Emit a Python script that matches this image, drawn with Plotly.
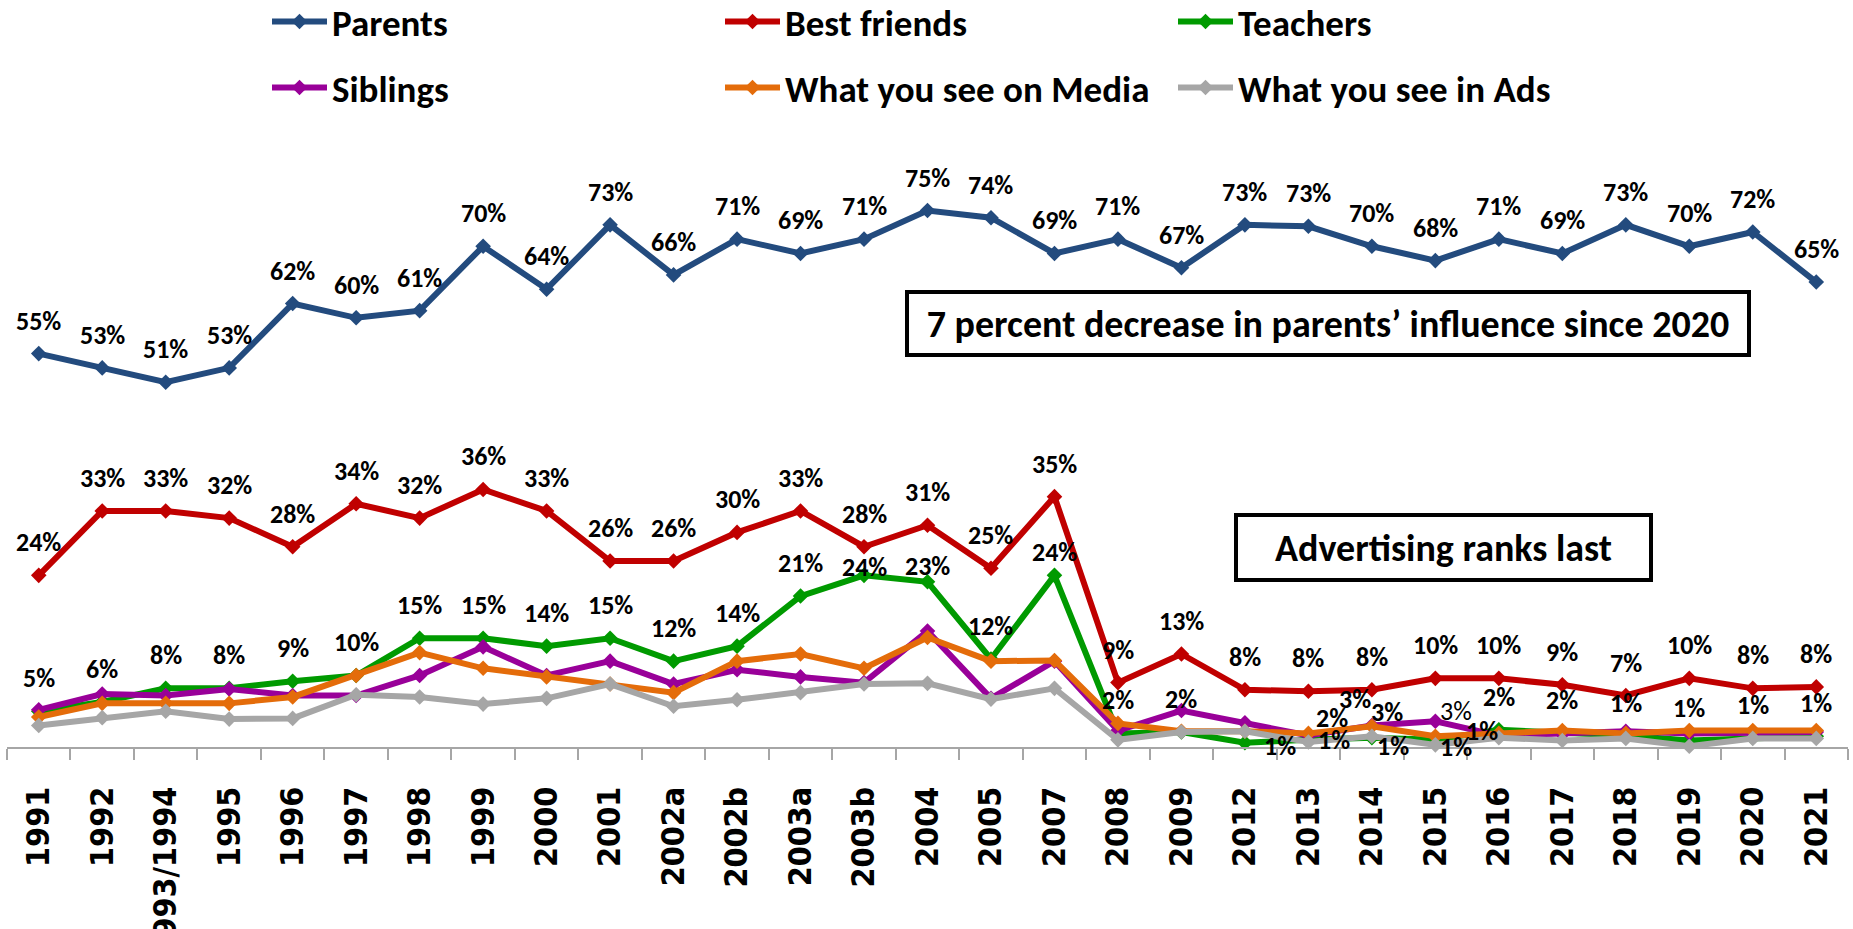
import plotly.graph_objects as go

# ---------------- data ----------------
years = ["1991", "1992", "1993/1994", "1995", "1996", "1997", "1998", "1999", "2000", "2001",
         "2002a", "2002b", "2003a", "2003b", "2004", "2005", "2007", "2008", "2009", "2012",
         "2013", "2014", "2015", "2016", "2017", "2018", "2019", "2020", "2021"]

parents = [55, 53, 51, 53, 62, 60, 61, 70, 64, 73, 66, 71, 69, 71, 75, 74, 69, 71, 67, 73,
           72.8, 70, 68, 71, 69, 73, 70, 72, 65]
parents_labels = [55, 53, 51, 53, 62, 60, 61, 70, 64, 73, 66, 71, 69, 71, 75, 74, 69, 71, 67, 73,
                  73, 70, 68, 71, 69, 73, 70, 72, 65]

best_friends = [24, 33, 33, 32, 28, 34, 32, 36, 33, 26, 26, 30, 33, 28, 31, 25, 35, 9, 13, 8,
                7.8, 8, 9.6, 9.6, 8.7, 7.2, 9.6, 8.2, 8.4]
best_friends_labels = [24, 33, 33, 32, 28, 34, 32, 36, 33, 26, 26, 30, 33, 28, 31, 25, 35, 9, 13, 8,
                       8, 8, 10, 10, 9, 7, 10, 8, 8]

teachers = [5, 6.3, 8.2, 8.2, 9.2, 10, 15.2, 15.2, 14.1, 15.2, 12, 14.1, 21.1, 24, 23.1, 12.3, 24,
            1.9, 2.1, 0.6, 1.0, 1.3, 1.0, 2.4, 2.0, 1.6, 0.9, 1.3, 1.5]
teachers_labels = [5, 6, 8, 8, 9, 10, 15, 15, 14, 15, 12, 14, 21, 24, 23, 12, 24, 2, 2, 1,
                   1, 1, 1, 2, 2, 1, 1, 1, 1]

siblings = [5.2, 7.4, 7.2, 8.1, 7.2, 7.2, 10, 14, 10, 12, 8.8, 10.8, 9.8, 9, 16.2, 6.8, 12,
            2.3, 5.1, 3.4, 1.6, 3.0, 3.6, 1.6, 1.8, 2.2, 1.9, 2.1, 2.1]
media = [4.2, 6.1, 6.1, 6.1, 7.0, 10, 13.2, 11, 9.8, 8.8, 7.6, 12, 13, 11, 15.3, 12, 12.1,
         3.3, 2.2, 2.2, 1.9, 2.9, 1.5, 1.9, 2.3, 1.9, 2.3, 2.3, 2.3]
ads = [3.0, 4.1, 5.0, 3.9, 4.0, 7.3, 7.0, 6.0, 6.8, 8.8, 5.7, 6.6, 7.6, 8.8, 8.9, 6.7, 8.2,
       1.0, 2.1, 2.2, 0.7, 1.5, 0.3, 1.3, 0.9, 1.2, 0.1, 1.2, 1.2]

series_names = ["Parents", "Best friends", "Teachers", "Siblings",
                "What you see on Media", "What you see in Ads"]
series_values = [parents, best_friends, teachers, siblings, media, ads]
series_colors = ["#234B7E", "#C00000", "#009A00", "#990099", "#E46C0A", "#A6A6A6"]
series_legend = ["legend", "legend", "legend", "legend2", "legend2", "legend2"]

note_top = "7 percent decrease in parents\u2019 influence since 2020"
note_bottom = "Advertising ranks last"

# ---------------- styling ----------------
LABEL_FAMILY = "Carlito, Lato, sans-serif"
LBL_FONT = dict(family=LABEL_FAMILY, size=26, color="black", weight="bold")
LEG_FONT = dict(family=LABEL_FAMILY, size=37, color="black", weight="bold")
BOX_FONT = dict(family=LABEL_FAMILY, size=38, color="black", weight="bold")
TICK_FONT = dict(family="Liberation Sans Narrow, Arial Narrow, DejaVu Sans Condensed, sans-serif",
                 size=32, color="black", weight="bold")

fig = go.Figure()
for name, vals, color, lg in zip(series_names, series_values, series_colors, series_legend):
    fig.add_trace(go.Scatter(
        x=years, y=vals, name=name, mode="lines+markers",
        line=dict(color=color, width=6),
        marker=dict(symbol="diamond", size=12, color=color),
        legend=lg, cliponaxis=False, hoverinfo="skip"))

DEFAULT_SHIFT = (0, 33)


def add_labels(vals, labels, overrides=None):
    overrides = overrides or {}
    for i, (v, lab) in enumerate(zip(vals, labels)):
        dx, dy = overrides.get(i, DEFAULT_SHIFT)
        # x given as category index so numeric-looking year names are not misread
        fig.add_annotation(x=i, y=v, text=f"{lab}%", showarrow=False,
                           xshift=dx, yshift=dy, font=LBL_FONT)


add_labels(parents, parents_labels)
add_labels(best_friends, best_friends_labels)
add_labels(teachers, teachers_labels, overrides={
    13: (0, 8), 14: (0, 16), 16: (0, 23),
    19: (35, -3), 20: (26, 0), 21: (21, -8), 22: (21, -7),
})

# extra labels attached to other series' points: (values, index, text, dx, dy, bold)
extra_labels = [
    (media, 20, "2%", 24, 15, True),
    (siblings, 21, "3%", -17, 27, True),
    (media, 21, "3%", 15, 14, True),
    (siblings, 22, "3%", 21, 10, False),
    (siblings, 23, "1%", -17, 5, True),
]
for vals, i, txt, dx, dy, bold in extra_labels:
    f = dict(LBL_FONT)
    if not bold:
        f["weight"] = "normal"
    fig.add_annotation(x=i, y=vals[i], text=txt, showarrow=False,
                       xshift=dx, yshift=dy, font=f)

# boxed notes
fig.add_annotation(xref="paper", yref="paper", x=0.7173, y=0.6965, text=note_top,
                   xanchor="center", yanchor="middle",
                   showarrow=False, font=BOX_FONT, bordercolor="black", borderwidth=4,
                   borderpad=0, width=838, height=59, bgcolor="white")
fig.add_annotation(xref="paper", yref="paper", x=0.7803, y=0.3281, text=note_bottom,
                   xanchor="center", yanchor="middle",
                   showarrow=False, font=BOX_FONT, bordercolor="black", borderwidth=4,
                   borderpad=0, width=411, height=61, bgcolor="white")

legend_common = dict(orientation="h", xref="container", yref="container",
                     xanchor="left", yanchor="middle", entrywidth=383,
                     entrywidthmode="pixels", itemwidth=55, font=LEG_FONT,
                     bgcolor="rgba(0,0,0,0)", borderwidth=0)

fig.update_layout(
    width=1853, height=929,
    margin=dict(l=7, r=5, t=139, b=182, pad=0),
    paper_bgcolor="white", plot_bgcolor="white",
    showlegend=True,
    legend=dict(legend_common, x=267 / 1853, y=1 - 22 / 929),
    legend2=dict(legend_common, x=267 / 1853, y=1 - 88 / 929),
    xaxis=dict(type="category", categoryorder="array", categoryarray=years,
               range=[-0.5, len(years) - 0.5], showgrid=False, zeroline=False,
               showline=True, linecolor="#A6A6A6", linewidth=2,
               ticks="outside", tickson="boundaries", ticklen=11, tickwidth=2,
               tickcolor="#A6A6A6", tickangle=-90, tickfont=TICK_FONT,
               ticklabelstandoff=25, automargin=False),
    yaxis=dict(range=[0, 85], visible=False, showgrid=False, zeroline=False,
               automargin=False),
)

fig.write_html("out.html",
               config={"displayModeBar": False},
               post_script="document.body.style.margin='0px';"
                           "document.body.style.overflow='hidden';")
